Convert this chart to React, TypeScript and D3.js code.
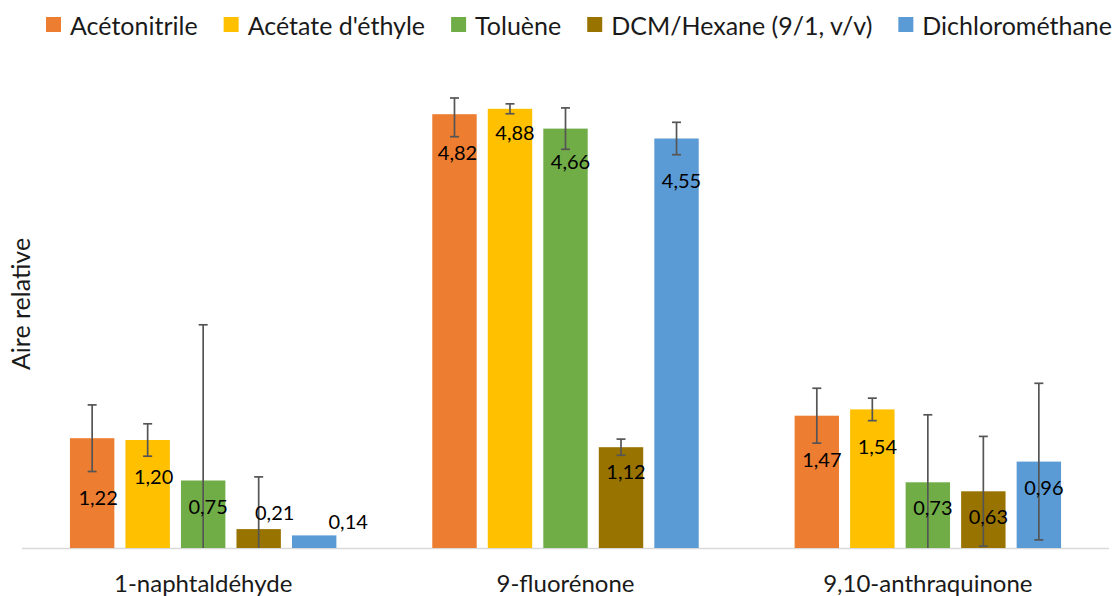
import { useEffect, useRef } from 'react';
import * as d3 from 'd3';

const categories = ['1-naphtaldéhyde', '9-fluorénone', '9,10-anthraquinone'];
const seriesNames = ['Acétonitrile', "Acétate d'éthyle", 'Toluène', 'DCM/Hexane (9/1, v/v)', 'Dichlorométhane'];
const seriesColors = ['#ED7D31', '#FFC000', '#70AD47', '#997300', '#5B9BD5'];

// values per series, in category order
const acetonitrile = [1.22, 4.82, 1.47];
const acetateEthyle = [1.2, 4.88, 1.54];
const toluene = [0.75, 4.66, 0.73];
const dcmHexane = [0.21, 1.12, 0.63];
const dichloromethane = [0.14, 4.55, 0.96];

// error bar half-widths, same layout
const errAcetonitrile = [0.37, 0.25, 0.305];
const errAcetateEthyle = [0.18, 0.055, 0.125];
const errToluene = [1.73, 0.23, 0.75];
const errDcmHexane = [0.58, 0.09, 0.61];
const errDichloromethane = [0, 0.18, 0.87];

const seriesValues = [acetonitrile, acetateEthyle, toluene, dcmHexane, dichloromethane];
const seriesErrors = [errAcetonitrile, errAcetateEthyle, errToluene, errDcmHexane, errDichloromethane];

// hand-placed data label offsets (px, from the bar top / bar centre)
const labelDy = [
  [59, 38, 43],
  [36, 23, 37],
  [25.5, 32, 25],
  [-17, 24, 25],
  [-14, 41.5, 25],
];
const labelDx = [
  [6, 3, 5],
  [6, 5, 5],
  [5, 5, 5],
  [16, 5, 5],
  [34, 5, 5],
];

const fmt = (v: number) => v.toFixed(2).replace('.', ',');

export default function App() {
  const svgRef = useRef<SVGSVGElement>(null);

  useEffect(() => {
    if (!svgRef.current) return;
    const width = 1115;
    const height = 596;
    const font = 'Lato, "Open Sans", sans-serif';
    const baseY = 548;

    const svg = d3.select(svgRef.current);
    svg.selectAll('*').remove();

    const x0 = d3.scaleBand().domain(categories).range([22, 1109]).padding(0);
    const groupWidth = x0.bandwidth() * 0.766;
    const groupOffset = (x0.bandwidth() - groupWidth) / 2;
    const x1 = d3
      .scaleBand()
      .domain(seriesNames)
      .range([groupOffset, groupOffset + groupWidth])
      .paddingInner(0.2)
      .paddingOuter(0.1);
    const y = d3.scaleLinear().domain([0, 5]).range([baseY, 98]).clamp(true);

    // axis line
    svg
      .append('line')
      .attr('x1', 22)
      .attr('x2', 1109)
      .attr('y1', baseY + 0.5)
      .attr('y2', baseY + 0.5)
      .attr('stroke', '#d9d9d9')
      .attr('stroke-width', 1.5);

    const cells = seriesNames.flatMap((s, si) =>
      categories.map((c, ci) => ({
        s,
        si,
        c,
        ci,
        v: seriesValues[si][ci],
        e: seriesErrors[si][ci],
      }))
    );

    svg
      .selectAll('.bar')
      .data(cells)
      .enter()
      .append('rect')
      .attr('class', 'bar')
      .attr('x', (d) => (x0(d.c) || 0) + (x1(d.s) || 0))
      .attr('y', (d) => y(d.v))
      .attr('width', x1.bandwidth())
      .attr('height', (d) => baseY - y(d.v))
      .attr('fill', (d) => seriesColors[d.si]);

    // error bars
    const eb = svg
      .selectAll('.err')
      .data(cells.filter((d) => d.e > 0))
      .enter()
      .append('g')
      .attr('class', 'err')
      .attr('stroke', '#555')
      .attr('stroke-width', 1.7);
    const cx = (d: { c: string; s: string }) => (x0(d.c) || 0) + (x1(d.s) || 0) + x1.bandwidth() / 2;
    eb.append('line')
      .attr('x1', cx)
      .attr('x2', cx)
      .attr('y1', (d) => y(d.v + d.e))
      .attr('y2', (d) => y(d.v - d.e));
    eb.append('line')
      .attr('x1', (d) => cx(d) - 4.5)
      .attr('x2', (d) => cx(d) + 4.5)
      .attr('y1', (d) => y(d.v + d.e))
      .attr('y2', (d) => y(d.v + d.e));
    eb.filter((d) => d.v - d.e > 0)
      .append('line')
      .attr('x1', (d) => cx(d) - 4.5)
      .attr('x2', (d) => cx(d) + 4.5)
      .attr('y1', (d) => y(d.v - d.e))
      .attr('y2', (d) => y(d.v - d.e));

    // data labels
    svg
      .selectAll('.lbl')
      .data(cells)
      .enter()
      .append('text')
      .attr('class', 'lbl')
      .attr('x', (d) => cx(d) + labelDx[d.si][d.ci])
      .attr('y', (d) => y(d.v) + labelDy[d.si][d.ci])
      .attr('text-anchor', 'middle')
      .attr('dominant-baseline', 'central')
      .style('font-family', font)
      .style('font-size', '20px')
      .style('fill', '#000')
      .text((d) => fmt(d.v));

    // category labels
    svg
      .selectAll('.cat')
      .data(categories)
      .enter()
      .append('text')
      .attr('class', 'cat')
      .attr('x', (d) => (x0(d) || 0) + x0.bandwidth() / 2)
      .attr('y', 582)
      .attr('text-anchor', 'middle')
      .attr('dominant-baseline', 'central')
      .style('font-family', font)
      .style('font-size', '24px')
      .style('fill', '#1a1a1a')
      .text((d) => d);

    // y axis title
    svg
      .append('text')
      .attr('transform', `translate(20, 304) rotate(-90)`)
      .attr('text-anchor', 'middle')
      .attr('dominant-baseline', 'central')
      .style('font-family', font)
      .style('font-size', '25px')
      .style('fill', '#1a1a1a')
      .text('Aire relative');

    // legend: spread across the top, from the first swatch to the last text end
    const legendLeft = 46;
    const legendRight = 1112;
    const items = seriesNames.map((name, i) => {
      const g = svg.append('g');
      g.append('rect').attr('x', 0).attr('y', 17).attr('width', 15).attr('height', 15).attr('fill', seriesColors[i]);
      const t = g
        .append('text')
        .attr('x', 24)
        .attr('y', 25)
        .attr('dominant-baseline', 'central')
        .style('font-family', font)
        .style('font-size', '25px')
        .style('fill', '#1a1a1a')
        .text(name);
      const w = 24 + (t.node() as SVGTextElement).getComputedTextLength();
      return { g, w };
    });
    const used = d3.sum(items, (d) => d.w);
    const gap = (legendRight - legendLeft - used) / (items.length - 1);
    let lx = legendLeft;
    items.forEach((it) => {
      it.g.attr('transform', `translate(${lx}, 0)`);
      lx += it.w + gap;
    });

    svg.attr('width', width).attr('height', height);
  }, []);

  return (
    <svg
      ref={svgRef}
      width={1115}
      height={596}
      style={{ position: 'absolute', left: 0, top: 0, display: 'block', background: '#fff' }}
    />
  );
}
